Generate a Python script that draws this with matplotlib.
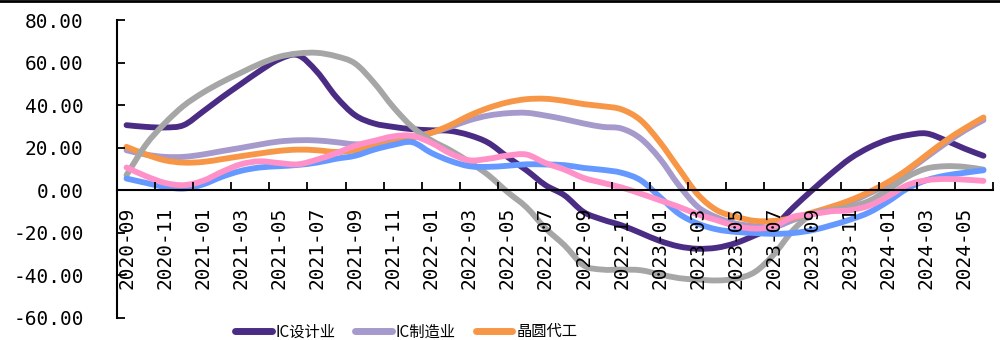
import matplotlib
matplotlib.use('Agg')
import matplotlib.pyplot as plt
from matplotlib.lines import Line2D
from matplotlib.path import Path
from matplotlib.patches import PathPatch
import numpy as np
import pandas as pd

plt.rcParams['font.family'] = ['Noto Sans CJK SC', 'DejaVu Sans']

# monthly categories, 2020-09 .. 2024-06
months = [p.strftime('%Y-%m') for p in pd.period_range('2020-09', '2024-06', freq='M')]

ic_design = [30.6, 29.8, 29.5, 30.6, 36.9, 43.6, 49.9, 56.1, 61.5, 63.5, 55.7, 44.0,
             35.3, 31.4, 29.8, 28.7, 28.2, 27.9, 25.9, 22.3, 15.7, 9.4, 2.4,
             -2.4, -10.2, -13.8, -16.5, -20.1, -23.8, -26.4, -27.5, -27.0, -24.8, -21.2, -17.0,
             -8.2, 0.0, 7.8, 14.9, 20.1, 23.8, 25.9, 26.7, 23.5, 19.6, 16.2]
ic_manu = [18.8, 16.8, 15.7, 15.7, 16.8, 18.4, 19.9, 21.5, 22.9, 23.5, 23.4, 22.6,
           21.6, 22.0, 23.2, 25.1, 27.0, 29.8, 32.9, 35.1, 36.2, 36.4, 35.1,
           33.4, 31.4, 29.8, 29.0, 24.3, 14.9, 2.4, -7.8, -12.8, -15.7, -16.9, -17.3,
           -14.0, -11.0, -8.5, -5.5, -1.5, 3.0, 9.0, 15.5, 22.0, 28.0, 33.0]
foundry = [20.4, 16.9, 14.1, 13.0, 13.3, 14.6, 16.0, 17.3, 18.5, 19.1, 18.8, 18.0,
           18.8, 20.4, 22.3, 24.6, 27.0, 30.6, 35.1, 38.7, 41.3, 42.8, 43.0,
           42.0, 40.5, 39.5, 38.0, 32.9, 22.7, 10.2, -2.0, -9.4, -12.5, -14.4, -14.4,
           -13.0, -10.5, -7.8, -4.7, -0.8, 3.9, 9.7, 16.5, 23.2, 29.0, 34.2]
# remaining series: legend entries are cut off in the source
gray_series = [7.1, 21.2, 31.4, 39.7, 45.8, 50.8, 55.2, 59.4, 62.7, 64.3, 64.6, 63.0,
               59.6, 50.5, 39.2, 29.8, 23.5, 18.8, 13.3, 7.1, -0.8, -8.0, -17.9,
               -25.9, -35.3, -37.3, -37.3, -37.6, -39.5, -41.3, -42.0, -42.4, -41.6, -38.4, -30.1,
               -18.8, -11.3, -9.4, -7.8, -5.0, 0.3, 6.3, 10.2, 11.3, 11.0, 9.7]
blue_series = [5.5, 3.5, 1.6, 0.8, 2.7, 6.3, 9.1, 10.7, 11.3, 11.9, 13.0, 14.8,
               16.2, 19.1, 21.3, 22.6, 17.6, 13.8, 11.3, 11.0, 11.5, 12.2, 12.1,
               11.8, 10.5, 9.6, 8.2, 4.7, -3.1, -11.0, -15.7, -18.4, -19.6, -20.1, -20.5,
               -20.1, -18.8, -16.5, -13.8, -10.4, -5.2, 0.8, 4.7, 6.9, 8.2, 9.4]
pink_series = [10.7, 6.7, 3.5, 2.4, 4.4, 8.6, 12.2, 13.6, 12.8, 12.2, 14.4, 17.4,
               20.9, 23.2, 25.3, 25.6, 22.3, 17.3, 14.1, 14.8, 16.3, 16.8, 12.8,
               9.7, 5.8, 3.5, 1.3, -1.6, -4.7, -7.8, -11.3, -14.1, -16.9, -18.0, -17.0,
               -12.5, -11.3, -9.9, -9.4, -7.2, -2.8, 2.4, 4.7, 5.3, 5.0, 4.4]

x = np.arange(len(months))


def smooth_path(xs, ys):
    # smoothed line through the data points (cubic bezier segments, like Excel)
    p = np.column_stack([xs, ys]).astype(float)
    verts = [p[0]]
    codes = [Path.MOVETO]
    n = len(p)
    for i in range(n - 1):
        p0 = p[max(i - 1, 0)]
        p3 = p[min(i + 2, n - 1)]
        c1 = p[i] + (p[i + 1] - p0) / 6
        c2 = p[i + 1] - (p3 - p[i]) / 6
        verts += [c1, c2, p[i + 1]]
        codes += [Path.CURVE4] * 3
    return Path(verts, codes)


fig = plt.figure(figsize=(10, 3.4), dpi=100)
ax = fig.add_axes([0.117, 0.065, 0.876, 0.876])

lw = 4.2
series = [
    (ic_design, '#4B2C84', 'IC设计业'),
    (ic_manu, '#A59ACB', 'IC制造业'),
    (foundry, '#F79646', '晶圆代工'),
    (gray_series, '#A6A6A6', None),
    (blue_series, '#6699FF', None),
    (pink_series, '#FF91C8', None),
]
handles = []
for vals, col, name in series:
    ax.add_patch(PathPatch(smooth_path(x, vals), fill=False, edgecolor=col, lw=lw,
                           capstyle='round', joinstyle='round'))
    if name:
        handles.append(Line2D([], [], color=col, lw=5, solid_capstyle='round', label=name))

ax.set_xlim(-0.5, len(months) - 0.5)
ax.set_ylim(-60, 80)

for s in ['top', 'right']:
    ax.spines[s].set_visible(False)
ax.spines['bottom'].set_position(('data', 0))
ax.spines['bottom'].set_linewidth(1.5)
ax.spines['left'].set_linewidth(1.5)

# ticks at category boundaries, labels at category centres
ax.set_xticks(np.arange(-0.5, len(months), 2))
ax.set_xticklabels([])
ax.set_xticks(x[::2], minor=True)
ax.set_xticklabels(months[::2], minor=True, rotation=90, fontsize=14,
                   family='DejaVu Sans Mono', va='top')
ax.tick_params(axis='x', which='major', direction='in', length=6, width=1.3)
ax.tick_params(axis='x', which='minor', length=0, pad=12)

yt = np.arange(-60, 81, 20)
ax.set_yticks(yt)
ax.set_yticklabels([f'{v:.2f}' for v in yt], fontsize=14, family='DejaVu Sans Mono')
ax.tick_params(axis='y', direction='in', length=6, width=1.3, pad=24)

fig.legend(handles=handles, loc='center left', bbox_to_anchor=(0.235, 0.024), ncol=3,
           frameon=False, fontsize=11, handlelength=2.4, handletextpad=0.25,
           columnspacing=1.3, borderpad=0, borderaxespad=0)

fig.add_artist(Line2D([0, 1], [0.997, 0.997], color='black', lw=2))

fig.savefig('out.png', dpi=100)
